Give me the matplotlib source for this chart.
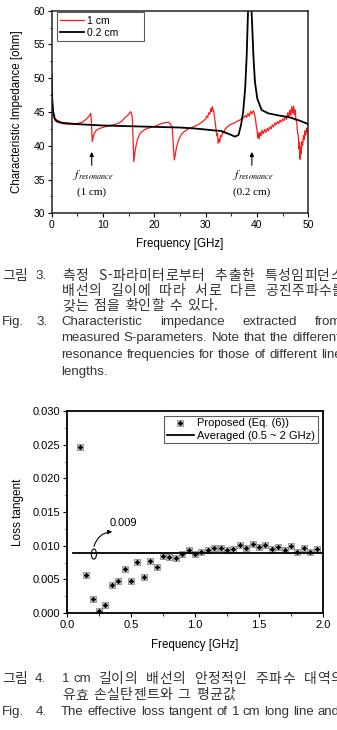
import matplotlib
matplotlib.use('Agg')
import matplotlib.pyplot as plt
from matplotlib.patches import Ellipse
from matplotlib.ticker import MultipleLocator

plt.rcParams['font.family'] = ['Liberation Sans', 'DejaVu Sans']
plt.rcParams['mathtext.fontset'] = 'stix'

# ---- Fig. 3 data: characteristic impedance vs frequency ----
freq_1cm = [0.02, 0.1, 0.3, 0.6, 1.0, 2, 3, 4, 5, 6, 6.7, 7.2, 7.6, 7.75, 7.9, 8.2,
            8.7, 9.5, 10.3, 11.5, 12.9, 13.6, 14.2, 14.8, 15.4, 15.7, 15.85, 16.0,
            16.3, 16.7, 17.2, 18.1, 19.2, 20.2, 21.1, 22.0, 22.7, 23.1, 23.5, 23.7,
            23.9, 24.35, 24.8, 25.3, 26.0, 26.9, 27.9, 28.9, 29.6, 30.0, 30.2, 30.4,
            30.6, 30.8, 31.0, 31.15, 31.3, 31.45, 31.6, 31.8, 32.0, 32.15, 32.3, 32.45,
            32.6, 32.75, 32.9, 33.1, 33.3, 33.5, 33.8, 34.1, 34.7, 35.6, 36.6, 37.5,
            37.75, 38.0, 38.25, 38.5, 38.75, 39.0, 39.25, 39.5, 39.7, 39.85, 40.0,
            40.15, 40.3, 40.45, 40.6, 40.8, 41.0, 41.25, 41.5, 41.75, 42.0, 42.25,
            42.5, 42.75, 43.0, 43.25, 43.5, 43.75, 44.0, 44.25, 44.5, 44.75, 45.0,
            45.25, 45.5, 45.75, 46.0, 46.2, 46.4, 46.6, 46.8, 47.0, 47.15, 47.3,
            47.45, 47.6, 47.75, 47.9, 48.05, 48.2, 48.3, 48.4, 48.5, 48.6, 48.75,
            48.9, 49.05, 49.2, 49.35, 49.5, 49.65, 49.8, 50.0]
z_1cm = [48.3, 46.0, 44.6, 43.8, 43.5, 43.3, 43.2, 43.2, 43.3, 43.5, 43.9, 44.3, 44.8,
         43.5, 40.6, 41.7, 42.3, 42.6, 42.8, 43.0, 43.3, 43.6, 44.1, 44.5, 45.05, 44.3,
         41.0, 37.65, 39.5, 40.9, 41.8, 42.4, 42.7, 42.9, 43.2, 43.4, 43.5, 43.3, 42.5,
         40.0, 37.9, 39.9, 41.0, 41.75, 42.2, 42.6, 42.9, 43.3, 43.7, 44.0, 44.4, 44.2,
         44.9, 44.7, 45.5, 45.1, 45.8, 45.3, 45.0, 43.8, 42.6, 41.5, 41.8, 40.4, 41.0,
         40.6, 41.5, 41.3, 42.0, 41.9, 42.5, 42.7, 43.1, 43.4, 43.8, 44.2, 44.5, 44.2,
         44.8, 44.4, 45.1, 44.7, 45.2, 44.8, 44.0, 43.0, 42.4, 41.2, 41.9, 41.0, 42.0,
         41.5, 42.3, 41.8, 42.4, 42.0, 42.6, 42.2, 42.8, 42.5, 43.1, 42.8, 43.4, 43.1,
         43.6, 43.3, 43.8, 43.5, 44.0, 43.7, 44.4, 43.9, 44.9, 44.2, 45.3, 44.5, 45.8,
         44.8, 45.9, 44.6, 45.3, 43.8, 43.5, 42.0, 41.5, 39.5, 40.5, 38.0, 39.8, 38.8,
         40.6, 40.0, 41.5, 40.9, 42.2, 41.6, 42.6, 42.0, 42.8]

freq_02cm = [0.02, 0.1, 0.3, 0.6, 1.0, 2, 5, 10, 15, 20, 25, 28, 30, 32, 33, 34, 35,
             35.7, 36.4, 36.9, 37.3, 37.7, 38.0, 38.25, 38.5, 38.7, 38.96, 39.3, 39.6,
             40.05, 40.9, 42.2, 44.15, 46.4, 48.4, 50.0]
z_02cm = [50.5, 47.0, 45.0, 44.0, 43.7, 43.4, 43.2, 43.0, 42.9, 42.8, 42.7, 42.55, 42.4,
          42.25, 42.2, 41.9, 41.6, 41.35, 41.6, 43.1, 45.0, 48.5, 53.4, 59.8, 64.0, 64.0,
          59.8, 53.4, 49.5, 47.0, 45.3, 44.8, 44.5, 44.2, 43.7, 43.2]

# ---- Fig. 4 data: loss tangent ----
lt_freq = [0.10, 0.15, 0.20, 0.25, 0.30, 0.35, 0.40, 0.45, 0.50, 0.55, 0.60, 0.65, 0.70,
           0.75, 0.80, 0.85, 0.90, 0.95, 1.00, 1.05, 1.10, 1.15, 1.20, 1.25, 1.30, 1.35,
           1.40, 1.45, 1.50, 1.55, 1.60, 1.65, 1.70, 1.75, 1.80, 1.85, 1.90, 1.95]
lt_val = [0.0247, 0.0057, 0.0021, 0.0003, 0.0012, 0.0041, 0.0048, 0.0066, 0.0047, 0.0076,
          0.0054, 0.0077, 0.0069, 0.0085, 0.0083, 0.0081, 0.0087, 0.0094, 0.0087, 0.0091,
          0.0094, 0.0097, 0.0096, 0.0094, 0.0095, 0.0101, 0.0097, 0.0102, 0.0098, 0.0101,
          0.0095, 0.0098, 0.0094, 0.0099, 0.0090, 0.0096, 0.0091, 0.0095]
avg_freq = [0.05, 2.0]
avg_val = [0.0089, 0.0089]

W, H = 337, 730
fig = plt.figure(figsize=(W / 100, H / 100), dpi=100)
cap_col = '#333333'
kr = ['Noto Sans CJK KR', 'DejaVu Sans']


def box(l, t, r, b):
    return [l / W, 1 - b / H, (r - l) / W, (b - t) / H]


# ---------------- top chart ----------------
ax1 = fig.add_axes(box(51.7, 10.7, 308.3, 213.3))
ax1.plot(freq_1cm, z_1cm, color='#ff1a1a', lw=0.9, label='1 cm')
ax1.plot(freq_02cm, z_02cm, color='black', lw=1.3, label='0.2 cm')
ax1.set_xlim(0, 50)
ax1.set_ylim(30, 60)
ax1.xaxis.set_major_locator(MultipleLocator(10))
ax1.xaxis.set_minor_locator(MultipleLocator(5))
ax1.yaxis.set_major_locator(MultipleLocator(5))
ax1.yaxis.set_minor_locator(MultipleLocator(2.5))
ax1.tick_params(which='both', direction='out', labelsize=7.5, pad=2)
ax1.tick_params(which='major', length=3)
ax1.tick_params(which='minor', length=1.8)
for s in ax1.spines.values():
    s.set_linewidth(1.1)
    s.set_color('#222222')
leg = ax1.legend(loc='upper left', bbox_to_anchor=(0.02, 0.7, 0.34, 0.294), mode='expand',
                 borderaxespad=0, fontsize=7.5, frameon=True, fancybox=False,
                 handlelength=2.3, borderpad=0.35, labelspacing=0.2, handletextpad=0.2)
leg.get_frame().set_edgecolor('#333333')
leg.get_frame().set_linewidth(0.8)

for xa, lab in [(7.8, '(1 cm)'), (39.0, '(0.2 cm)')]:
    ax1.annotate('', xy=(xa, 39.5), xytext=(xa, 36.7),
                 arrowprops=dict(arrowstyle='-|>', color='black', lw=0.8,
                                 mutation_scale=6))
    ax1.text(xa + 0.3, 35.6, r'$f_{resonance}$', ha='center', va='center', fontsize=8.5)
    ax1.text(xa, 33.1, lab, ha='center', va='center', fontsize=8,
             family='Liberation Serif')

fig.text(16.7 / W, 1 - 112 / H, 'Characteristic Impedance [ohm]', rotation=90,
         ha='center', va='center', fontsize=8.3)
fig.text(180 / W, 1 - 244 / H, 'Frequency [GHz]', ha='center', va='center', fontsize=8.3)

# ---------------- bottom chart ----------------
ax2 = fig.add_axes(box(67, 411, 323, 613))
pts_sq, = ax2.plot(lt_freq, lt_val, ls='none', marker='s', ms=3.7, mfc='#c4c4c4',
                   mec='#7a7a7a', mew=0.5)
pts_st, = ax2.plot(lt_freq, lt_val, ls='none', marker=(8, 2, 0), ms=3.0,
                   color='black', mew=0.7)
avg_ln, = ax2.plot(avg_freq, avg_val, color='black', lw=1.3)
ax2.set_xlim(0, 2.0)
ax2.set_ylim(0, 0.030)
ax2.xaxis.set_major_locator(MultipleLocator(0.5))
ax2.xaxis.set_minor_locator(MultipleLocator(0.25))
ax2.yaxis.set_major_locator(MultipleLocator(0.005))
ax2.yaxis.set_minor_locator(MultipleLocator(0.0025))
ax2.xaxis.set_major_formatter(matplotlib.ticker.FormatStrFormatter('%.1f'))
ax2.yaxis.set_major_formatter(matplotlib.ticker.FormatStrFormatter('%.3f'))
ax2.tick_params(which='both', direction='out', labelsize=8, pad=2)
ax2.tick_params(which='major', length=3)
ax2.tick_params(which='minor', length=1.8)
for s in ax2.spines.values():
    s.set_linewidth(1.3)
leg2 = ax2.legend([(pts_sq, pts_st), avg_ln], ['Proposed (Eq. (6))', 'Averaged (0.5 ~ 2 GHz)'],
                  loc='upper right', bbox_to_anchor=(0.98, 0.977), borderaxespad=0,
                  fontsize=8, frameon=True, fancybox=False, handlelength=2.4,
                  borderpad=0.25, labelspacing=0.2, handletextpad=0.3)
leg2.get_frame().set_edgecolor('#333333')
leg2.get_frame().set_linewidth(0.8)

ax2.add_patch(Ellipse((0.21, 0.00875), 0.04, 0.0015, fill=False, lw=0.8, color='black'))
ax2.annotate('', xy=(0.375, 0.0121), xytext=(0.205, 0.0095),
             arrowprops=dict(arrowstyle='-|>', color='black', lw=0.8, mutation_scale=6,
                             connectionstyle='arc3,rad=-0.4'))
ax2.text(0.44, 0.0133, '0.009', ha='center', va='center', fontsize=8)

fig.text(18.3 / W, 1 - 512 / H, 'Loss tangent', rotation=90, ha='center', va='center',
         fontsize=8.5)
fig.text(195 / W, 1 - 645 / H, 'Frequency [GHz]', ha='center', va='center', fontsize=8.3)

# ---------------- captions ----------------
rend = fig.canvas.get_renderer()


def make_word(y_px, word, size, fam, track):
    # a word is a list of glyph texts; track>0 spreads the glyphs apart
    parts = list(word) if track else [word]
    ts = [fig.text(0, 1 - y_px / H, p, fontsize=size, family=fam, va='center',
                   ha='left', color=cap_col) for p in parts]
    ws = [t.get_window_extent(rend).width for t in ts]
    return ts, ws, sum(ws) + track * (len(parts) - 1)


def put_line(y_px, x0, words, x1=None, size=9.5, family=None, gap_em=0.4, track=0):
    fam = family if family is not None else ['Liberation Sans', 'DejaVu Sans']
    made = [make_word(y_px, w, size, fam, track) for w in words]
    total = sum(m[2] for m in made)
    if x1 is None or len(words) < 2:
        gap = gap_em * size * 100 / 72
    else:
        gap = (x1 - x0 - total) / (len(words) - 1)
    x = x0
    for ts, ws, wtot in made:
        cx = x
        for t, w in zip(ts, ws):
            t.set_x(cx / W)
            cx += w + track
        x += wtot + gap


ks = 10
kt = 0.4
es = 9.5
put_line(276, 2, ['그림'], size=ks, family=kr, track=kt)
put_line(276, 35, ['3.'], size=es)
put_line(276, 62, '측정 S-파라미터로부터 추출한 특성임피던스'.split(), x1=343, size=ks,
         family=kr, track=kt)
put_line(291, 62, '배선의 길이에 따라 서로 다른 공진주파수를'.split(), x1=344, size=ks,
         family=kr, track=kt)
put_line(306, 62, '갖는 점을 확인할 수 있다.'.split(), size=ks, family=kr, track=kt)
put_line(322, 2, ['Fig.'], size=es)
put_line(322, 36, ['3.'], size=es)
put_line(322, 61, 'Characteristic impedance extracted from'.split(), x1=341, size=es)
put_line(338, 61, 'measured S-parameters. Note that the different'.split(), x1=340, size=es)
put_line(355, 61, 'resonance frequencies for those of different line'.split(), x1=342, size=es)
put_line(372, 61, ['lengths.'], size=es)

put_line(679, 2, ['그림'], size=ks, family=kr, track=kt)
put_line(679, 35, ['4.'], size=es)
put_line(679, 62, ['1', 'cm'], size=es, gap_em=0.3)
put_line(679, 98, '길이의 배선의 안정적인 주파수 대역의'.split(), x1=343, size=ks,
         family=kr, track=kt)
put_line(695, 62, '유효 손실탄젠트와 그 평균값'.split(), size=ks, family=kr, track=kt)
put_line(712, 2, ['Fig.'], size=es)
put_line(712, 36, ['4.'], size=es)
put_line(712, 61, 'The effective loss tangent of 1 cm long line and'.split(), x1=340, size=es)

fig.savefig('out.png', dpi=100)
